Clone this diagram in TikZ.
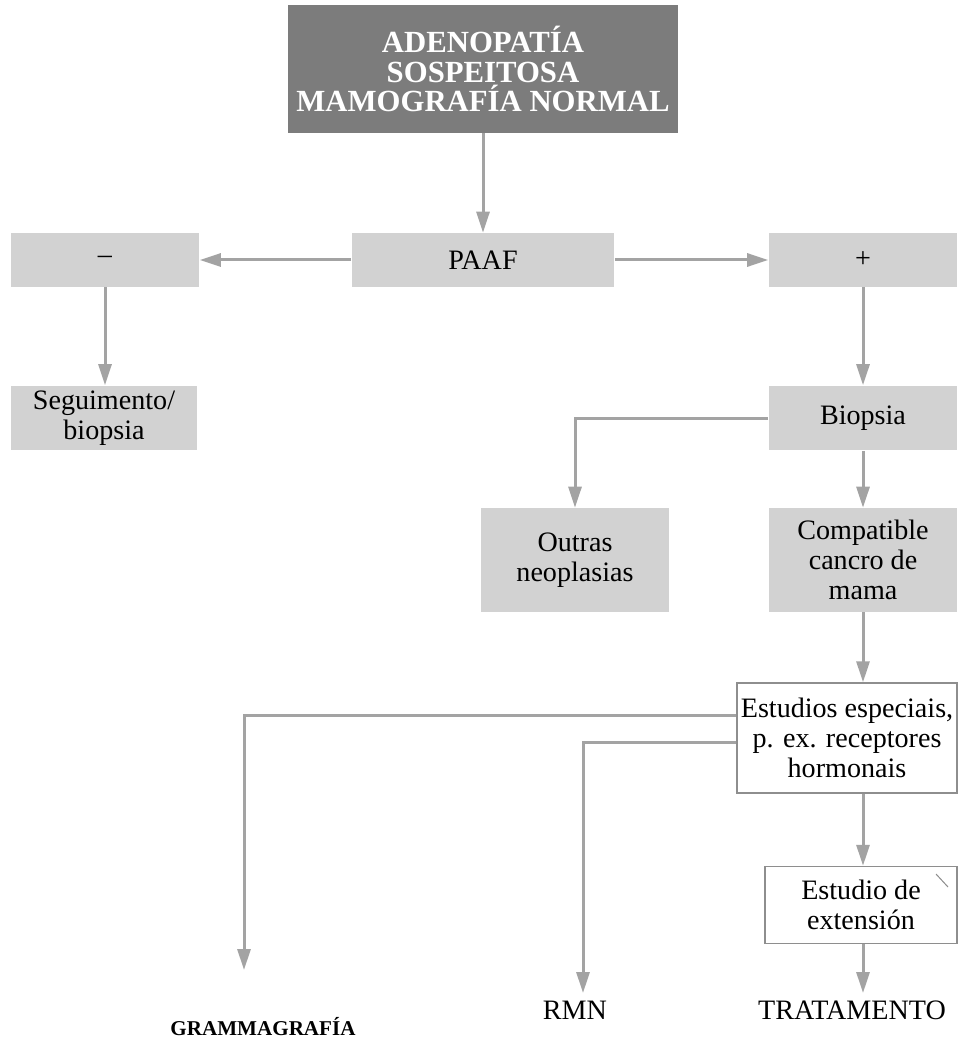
\documentclass[tikz,border=0pt]{standalone}
\usepackage{fontspec}
\setmainfont{Liberation Serif}
\usetikzlibrary{arrows.meta, positioning, calc}

\definecolor{boxgray}{HTML}{D2D2D2}
\definecolor{darkbox}{HTML}{7C7C7C}
\definecolor{linegray}{HTML}{A3A3A3}
\definecolor{edgegray}{HTML}{8E8E8E}
\newcommand{\bodyfont}{\fontsize{16}{17}\selectfont}
\newcommand{\headfont}{\fontsize{17.5}{16.8}\selectfont\bfseries}

\begin{document}
\begin{tikzpicture}[x=0.02cm, y=-0.02cm,
    >={Triangle[length=0.42cm, width=0.26cm]},
    flow/.style={->, draw=linegray, line width=0.06cm},
    shaded/.style={fill=boxgray, align=center, font=\bodyfont, inner sep=0pt,
                   minimum width=3.78cm},
    framed/.style={fill=white, draw=edgegray, line width=0.03cm, align=center,
                   font=\bodyfont, inner sep=0pt},
    endlabel/.style={font=\bodyfont, inner sep=0pt}]
  \useasboundingbox (0,0) rectangle (962,1040);

  % Head box
  \node[fill=darkbox, text=white, font=\headfont, align=center, inner sep=0pt,
        minimum width=7.8cm, minimum height=2.56cm] (head) at (483,69)
    {ADENOPATÍA\\SOSPEITOSA\\MAMOGRAFÍA NORMAL};

  % PAAF row
  \node[shaded, minimum width=5.26cm, minimum height=1.08cm] (paaf) at (483,260) {PAAF};
  \node[shaded, minimum height=1.08cm] (neg) at (105,260) {--};
  \node[shaded, minimum height=1.08cm] (pos) at (863,260) {+};

  % Second and third rows
  \node[shaded, minimum width=3.74cm, minimum height=1.3cm] (segui) at (104,418)
    {Seguimento/\\biopsia};
  \node[shaded, minimum height=1.3cm] (biop) at (863,418) {Biopsia};
  \node[shaded, minimum height=2.08cm] (outras) at (575,560) {Outras\\neoplasias};
  \node[shaded, minimum height=2.08cm] (compat) at (863,560)
    {Compatible\\cancro de\\mama};

  % Framed boxes
  \node[framed, minimum width=4.4cm, minimum height=2.2cm] (estud) at (847,738)
    {Estudios especiais,\\p. ex. receptores\\hormonais};
  \node[framed, minimum width=3.84cm, minimum height=1.54cm] (ext) at (861,905)
    {Estudio de\\extensión};
  \draw[edgegray, line width=0.02cm] (936,874) -- (948,887);

  % Bottom labels
  \node[endlabel, font=\fontsize{12}{13}\selectfont\bfseries] (gramma) at (263,1027)
    {GRAMMAGRAFÍA};
  \node[endlabel] (rmn) at (575,1010) {RMN};
  \node[endlabel] (trat) at (852,1010) {TRATAMENTO};
  \coordinate (gtip) at (244,970);
  \coordinate (rtip) at (583,993);
  \coordinate (ttip) at (863,993);

  % Connectors
  \draw[flow] (head.south) -- (paaf.north);
  \draw[flow] (paaf.west) -- (neg.east);
  \draw[flow] (paaf.east) -- (pos.west);
  \draw[flow] (neg.south) -- (neg.south |- segui.north);
  \draw[flow] (pos.south) -- (biop.north);
  \draw[flow] (biop.west) -| (outras.north);
  \draw[flow] (biop.south) -- (compat.north);
  \draw[flow] (compat.south) -- (compat.south |- estud.north);
  \draw[flow] ([yshift=0.46cm]estud.west) -| (gtip);
  \draw[flow] ([yshift=-0.08cm]estud.west) -| (rtip);
  \draw[flow] (compat.south |- estud.south) -- (compat.south |- ext.north);
  \draw[flow] (compat.south |- ext.south) -- (ttip);
\end{tikzpicture}
\end{document}
